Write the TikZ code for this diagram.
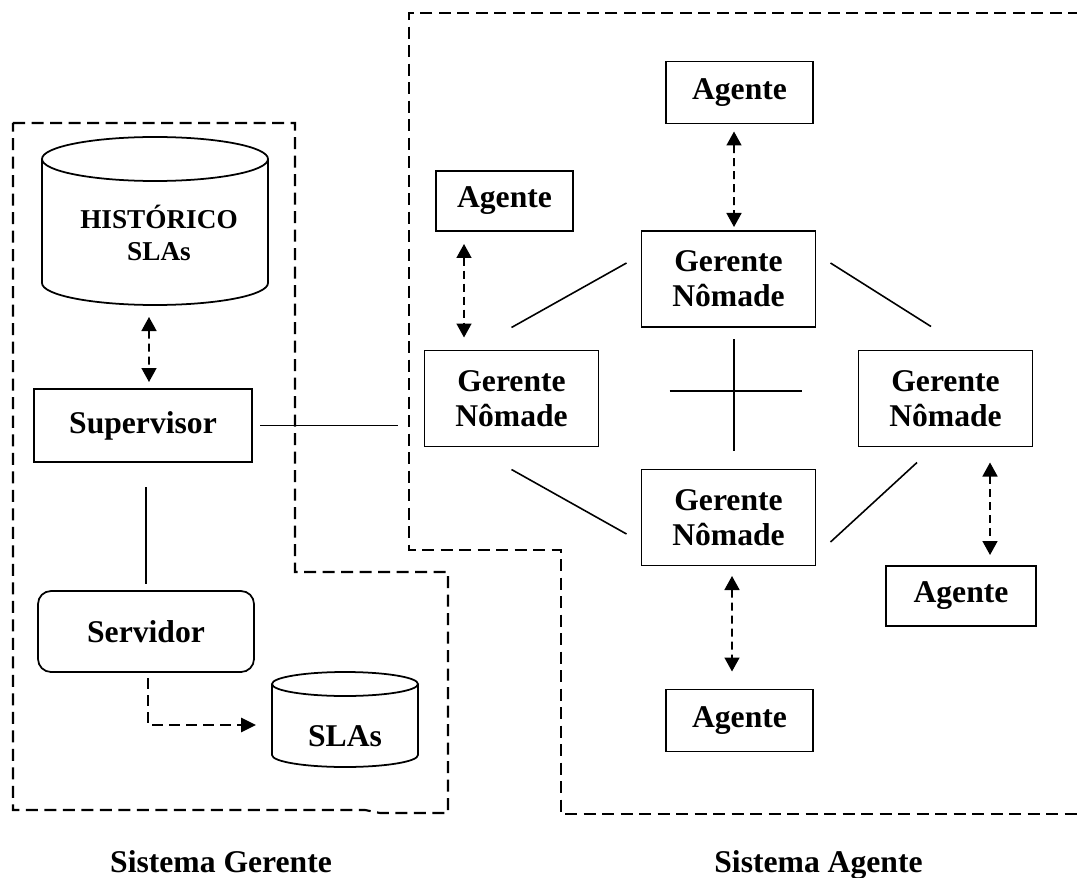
\documentclass[tikz,border=0pt]{standalone}
\usepackage{fontspec}
\setmainfont{Liberation Serif}
\usetikzlibrary{arrows.meta}
\newcommand{\dbshape}[3]{%
  \draw[line width=1pt] ([yshift=-#3]#1.north west) -- ([yshift=#3]#1.south west)
    arc[start angle=180, end angle=360, x radius=#2, y radius=#3] -- ([yshift=-#3]#1.north east);
  \draw[line width=1pt] ([yshift=-#3]#1.north) ellipse [x radius=#2, y radius=#3];}

\begin{document}
\begin{tikzpicture}[font=\fontsize{18}{20}\selectfont\bfseries,
		box/.style={draw, line width=1pt, align=center, inner sep=0pt, outer sep=0pt},
		gerente/.style={box, minimum width=3.48cm, minimum height=1.92cm},
		agente/.style={box, minimum height=1.24cm},
		boundary/.style={line width=1.2pt, dash pattern=on 0.24cm off 0.13cm},
		link/.style={line width=0.9pt},
		darrow/.style={line width=0.9pt, dash pattern=on 0.16cm off 0.1cm, {Triangle[length=0.28cm,width=0.3cm]}-{Triangle[length=0.28cm,width=0.3cm]}},
		sarrow/.style={line width=1.6pt, dash pattern=on 0.22cm off 0.12cm, -{Triangle[length=0.3cm,width=0.28cm]}}]
		\useasboundingbox (0,0) rectangle (21.54,17.54);
		\draw[boundary] (0.26,15.08) -- (5.90,15.08) -- (5.90,6.10) -- (8.96,6.10) -- (8.96,1.28) -- (7.60,1.28) -- (7.30,1.34) -- (0.26,1.34) -- cycle;
		\draw[boundary] (21.6,17.28) -- (8.18,17.28) -- (8.18,6.54) -- (11.22,6.54) -- (11.22,1.26) -- (21.6,1.26);
		\node (hist) [inner sep=0pt, outer sep=0pt, minimum width=4.52cm, minimum height=3.36cm,
			label={[font=\fontsize{15.5}{18.2}\selectfont\bfseries, align=center, xshift=0.08cm, yshift=-0.24cm]center:{HISTÓRICO\\SLAs}}] at (3.10,13.12) {};
		\dbshape{hist}{2.26cm}{0.44cm}
		\node (sup) [box, minimum width=4.36cm, minimum height=1.46cm] at (2.86,9.03) {Supervisor};
		\node (srv) [box, rounded corners=0.26cm, minimum width=4.32cm, minimum height=1.62cm] at (2.92,4.91) {Servidor};
		\node (slas) [inner sep=0pt, outer sep=0pt, minimum width=2.92cm, minimum height=1.90cm,
			label={[yshift=-0.33cm]center:SLAs}] at (6.90,3.15) {};
		\dbshape{slas}{1.46cm}{0.24cm}
		\node (gnT) [gerente] at (14.57,11.96) {Gerente\\Nômade};
		\node (gnL) [gerente] at (10.23,9.57) {Gerente\\Nômade};
		\node (gnR) [gerente] at (18.91,9.57) {Gerente\\Nômade};
		\node (gnB) [gerente] at (14.57,7.19) {Gerente\\Nômade};
		\node (agT) [agente, minimum width=2.94cm] at (14.79,15.69) {Agente};
		\node (agL) [agente, minimum width=2.74cm, minimum height=1.20cm] at (10.09,13.52) {Agente};
		\node (agR) [agente, minimum width=3.00cm, minimum height=1.20cm] at (19.22,5.62) {Agente};
		\node (agB) [agente, minimum width=2.94cm] at (14.79,3.13) {Agente};
		\node (lblG) [anchor=base] at (4.42,0.10) {Sistema Gerente};
		\node (lblA) [anchor=base] at (16.37,0.10) {Sistema Agente};
		\draw[darrow, shorten <=0.24cm, shorten >=0.14cm] ([xshift=-0.12cm]hist.south) -- ([xshift=0.12cm]sup.north);
		\draw[link, shorten <=0.16cm, shorten >=0.54cm] (sup.east) -- (sup.east -| gnL.west);
		\draw[link, shorten <=0.50cm, shorten >=0.14cm] ([xshift=0.06cm]sup.south) -- (srv.north);
		\draw[sarrow, shorten <=0.12cm, shorten >=0.32cm] ([xshift=0.04cm]srv.south) |- ([yshift=-0.11cm]slas.west);
		\draw[link] ([xshift=-0.30cm,yshift=0.32cm]gnT.west) -- ([yshift=0.46cm]gnL.north);
		\draw[link] ([xshift=0.30cm,yshift=0.32cm]gnT.east) -- ([xshift=-0.29cm,yshift=0.48cm]gnR.north);
		\draw[link] ([yshift=-0.46cm]gnL.south) -- ([xshift=-0.30cm,yshift=-0.33cm]gnB.west);
		\draw[link] ([xshift=0.30cm,yshift=-0.49cm]gnB.east) -- ([xshift=-0.57cm,yshift=-0.32cm]gnR.south);
		\draw[link, shorten <=0.24cm, shorten >=0.38cm] ([xshift=0.11cm]gnT.south) -- ([xshift=0.11cm]gnB.north);
		\draw[link, shorten <=1.42cm, shorten >=1.14cm] ([yshift=0.15cm]gnL.east) -- ([yshift=0.15cm]gnR.west);
		\draw[darrow, shorten <=0.16cm, shorten >=0.08cm] ([xshift=-0.11cm]agT.south) -- ([xshift=0.11cm]gnT.north);
		\draw[darrow, shorten <=0.26cm, shorten >=0.26cm] ([xshift=-0.81cm]agL.south) -- ([xshift=-0.95cm]gnL.north);
		\draw[darrow, shorten <=0.32cm, shorten >=0.22cm] ([xshift=0.89cm]gnR.south) -- ([xshift=0.58cm]agR.north);
		\draw[darrow, shorten <=0.21cm, shorten >=0.36cm] ([xshift=0.07cm]gnB.south) -- ([xshift=-0.15cm]agB.north);
\end{tikzpicture}
\end{document}
